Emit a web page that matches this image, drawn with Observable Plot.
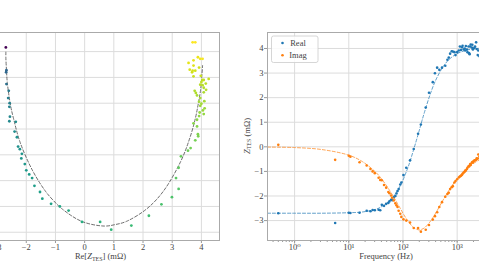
<!DOCTYPE html>
<html>
<head>
<meta charset="utf-8">
<script src="https://cdn.jsdelivr.net/npm/d3@7"></script>
<script src="https://cdn.jsdelivr.net/npm/@observablehq/plot@0.6"></script>
<style>
  html, body { margin: 0; padding: 0; background: #fff; }
  #wrap { position: relative; width: 479px; height: 270px; overflow: hidden; background: #fff; }
  #wrap svg { position: absolute; top: 0; }
  #wrap svg, #wrap svg text, #wrap svg tspan { font-family: "Liberation Serif", "DejaVu Serif", serif !important; }
</style>
</head>
<body>
<div id="wrap"></div>
<script>
// ---- measured data (frequency in Hz, impedance in mOhm) ----
const freq = [0.5, 5.6, 10.0, 10.7, 15.8, 21.4, 25.1, 27.5, 30.2, 35.5, 38.0, 40.7, 44.7, 49.0, 53.7, 56.2, 60.3, 63.1, 67.6, 72.4, 75.9, 79.4, 83.2, 89.1, 93.3, 102, 115, 135, 158, 190, 214, 263, 302, 355, 389, 427, 468, 525, 603, 661, 700, 741, 794, 832, 891, 933, 1000, 1072, 1122, 1175, 1230, 1259, 1318, 1380, 1413, 1445, 1514, 1549, 1622, 1660, 1698, 1738, 1778, 1862, 1905, 1950, 1995, 2089, 2138, 2239, 2291, 2399, 2455, 2570, 2692, 2818, 2951, 3162, 3388, 3631, 3890, 4169, 4467, 4786, 5012];
const realZ = [-2.70, -3.10, -2.68, -2.69, -2.68, -2.60, -2.62, -2.57, -2.58, -2.56, -2.58, -2.36, -2.40, -2.32, -2.28, -2.22, -2.15, -2.17, -2.05, -2.00, -1.90, -1.80, -1.72, -1.53, -1.45, -1.15, -0.85, -0.55, -0.09, 0.53, 0.91, 1.60, 2.20, 2.63, 2.99, 3.22, 3.13, 3.22, 3.30, 3.54, 3.63, 3.79, 3.89, 3.88, 3.85, 3.73, 3.85, 3.92, 4.08, 3.94, 4.05, 4.11, 3.96, 4.00, 3.92, 4.10, 3.96, 3.85, 4.08, 3.81, 3.77, 4.08, 4.16, 4.04, 4.15, 3.96, 4.00, 4.03, 4.08, 4.25, 3.98, 3.73, 3.92, 3.68, 3.79, 3.70, 3.60, 3.73, 3.56, 3.73, 3.88, 3.96, 4.04, 3.70, 3.79];
const imagZ = [0.08, -0.53, -0.36, -0.40, -0.63, -0.76, -0.90, -1.00, -1.07, -1.26, -1.35, -1.36, -1.55, -1.66, -1.84, -1.89, -1.98, -2.07, -2.18, -2.30, -2.38, -2.45, -2.60, -2.72, -2.85, -2.95, -3.00, -3.08, -3.30, -3.30, -3.45, -3.37, -3.18, -2.96, -2.82, -2.66, -2.45, -2.25, -2.03, -1.92, -1.87, -1.72, -1.64, -1.60, -1.45, -1.39, -1.32, -1.25, -1.21, -1.18, -1.14, -1.10, -1.05, -1.01, -0.97, -0.96, -0.90, -0.85, -0.79, -0.80, -0.76, -0.70, -0.74, -0.65, -0.62, -0.64, -0.59, -0.55, -0.55, -0.53, -0.47, -0.48, -0.31, -0.40, -0.37, -0.37, -0.35, -0.27, -0.22, -0.17, -0.11, -0.14, -0.14, 0.18, 0.18];

// ---- fitted model curve ----
const fitFreq = [0.316, 1, 3.16, 10, 17.8, 31.6, 39.8, 56.2, 79.4, 100, 112, 126, 158, 200, 224, 251, 316, 398, 562, 750, 1000, 1334, 1778, 3162, 5012];
const fitReal = [-2.70, -2.70, -2.70, -2.68, -2.65, -2.54, -2.44, -2.21, -1.78, -1.35, -1.08, -0.79, -0.10, 0.67, 1.06, 1.43, 2.12, 2.69, 3.29, 3.60, 3.79, 3.90, 3.97, 4.02, 4.04];
const fitImag = [-0.01, -0.03, -0.11, -0.34, -0.60, -1.04, -1.29, -1.76, -2.31, -2.70, -2.88, -3.04, -3.29, -3.38, -3.35, -3.29, -3.05, -2.71, -2.13, -1.68, -1.30, -0.99, -0.75, -0.43, -0.27];

// ---- ticks ----
const leftXTicks = [-3, -2, -1, 0, 1, 2, 3, 4];
const leftYTicks = [0, -0.5, -1, -1.5, -2, -2.5, -3, -3.5];
const rightXTicks = [1, 10, 100, 1000];
const rightXTickLabels = ["10⁰", "10¹", "10²", "10³"];
const rightYTicks = [-3, -2, -1, 0, 1, 2, 3, 4];
const seriesNames = ["Real", "Imag"];
const seriesColors = ["#1f77b4", "#ff7f0e"];

const data = freq.map((f, i) => ({f, re: realZ[i], im: imagZ[i]}));
const fit = fitFreq.map((f, i) => ({f, re: fitReal[i], im: fitImag[i]}));

const FONT = "Liberation Serif, DejaVu Serif, serif";
const FS = 8.5;
const TXT = "#444";
const minus = v => (v < 0 ? "\u2212" + String(Math.abs(v)) : String(v));
const minus1 = v => (v < 0 ? "\u2212" + Math.abs(v).toFixed(1) : v.toFixed(1));

const wrap = document.getElementById("wrap");
const ML = 40, MR = 10, MT = 32, MB = 30, H = 270;

// ---------------- left: Nyquist plot ----------------
const leftFrameW = 237;
const left = Plot.plot({
  width: ML + leftFrameW + MR, height: H,
  marginLeft: ML, marginRight: MR, marginTop: MT, marginBottom: MB,
  style: {fontFamily: FONT, fontSize: FS + "px", color: TXT, background: "transparent"},
  x: {domain: [-3.5, 4.62]},
  y: {domain: [-3.66, 0.37]},
  color: {type: "log", scheme: "viridis", domain: [0.5, 5012]},
  marks: [
    Plot.gridX(leftXTicks, {stroke: "#dcdcdc", strokeOpacity: 1}),
    Plot.gridY(leftYTicks, {stroke: "#dcdcdc", strokeOpacity: 1}),
    Plot.axisX({ticks: leftXTicks, tickSize: 3, tickPadding: 0, tickFormat: minus, label: null, stroke: "#999", fill: TXT}),
    Plot.axisY({ticks: leftYTicks, tickSize: 3, tickPadding: 1, tickFormat: minus1, label: null, stroke: "#999", fill: TXT}),
    Plot.line(fit, {x: "re", y: "im", stroke: "#555", strokeOpacity: 0.85, strokeWidth: 1, strokeDasharray: "3,2", curve: "catmull-rom", clip: true}),
    Plot.dot(data, {x: "re", y: "im", fill: "f", r: 1.4}),
    Plot.frame({stroke: "#aaa"})
  ]
});
left.style.left = (-18 - ML) + "px";
wrap.appendChild(left);

// ---------------- right: Bode plot ----------------
const rightFrameW = 238;
const right = Plot.plot({
  width: ML + rightFrameW + MR, height: H,
  marginLeft: ML, marginRight: MR, marginTop: MT, marginBottom: MB,
  style: {fontFamily: FONT, fontSize: FS + "px", color: TXT, background: "transparent"},
  x: {type: "log", domain: [0.316, 7800]},
  y: {domain: [-3.81, 4.65]},
  marks: [
    Plot.gridX(rightXTicks, {stroke: "#dcdcdc", strokeOpacity: 1}),
    Plot.gridY(rightYTicks, {stroke: "#dcdcdc", strokeOpacity: 1}),
    Plot.axisX({ticks: 40, tickSize: 2, tickFormat: () => "", label: null, stroke: "#999"}),
    Plot.axisX({ticks: rightXTicks, tickSize: 3.5, tickPadding: -0.5, tickFormat: d => rightXTickLabels[rightXTicks.indexOf(d)], label: null, stroke: "#999", fill: TXT}),
    Plot.axisY({ticks: rightYTicks, tickSize: 3, tickPadding: 1, tickFormat: minus, label: null, stroke: "#999", fill: TXT}),
    Plot.dot(data, {x: "f", y: "re", fill: seriesColors[0], r: 1.3}),
    Plot.line(fit, {x: "f", y: "re", stroke: seriesColors[0], strokeOpacity: 0.7, strokeWidth: 1, strokeDasharray: "3,2", curve: "catmull-rom", clip: true}),
    Plot.dot(data, {x: "f", y: "im", fill: seriesColors[1], r: 1.3}),
    Plot.line(fit, {x: "f", y: "im", stroke: seriesColors[1], strokeOpacity: 0.7, strokeWidth: 1, strokeDasharray: "3,2", curve: "catmull-rom", clip: true}),
    Plot.frame({stroke: "#aaa"})
  ]
});
right.style.left = (267 - ML) + "px";
wrap.appendChild(right);

// ---------------- axis titles (with sub-scripts) ----------------
function zLabel(sel, pre, post) {
  const t = sel.append("text").attr("font-family", FONT).attr("font-size", FS).attr("fill", TXT).attr("text-anchor", "middle");
  t.append("tspan").text(pre);
  t.append("tspan").attr("font-style", "italic").text("Z");
  t.append("tspan").attr("font-size", 6).attr("dy", 1.5).text("TES");
  t.append("tspan").attr("dy", -1.5).text(post);
  return t;
}
const ls = d3.select(left);
zLabel(ls, "Re[", "] (m\u03A9)").attr("x", ML + leftFrameW / 2).attr("y", 259);
zLabel(ls, "Im[", "] (m\u03A9)").attr("transform", `translate(10,${(MT + H - MB) / 2}) rotate(-90)`);

const rs = d3.select(right);
rs.append("text").attr("font-family", FONT).attr("font-size", FS).attr("fill", TXT)
  .attr("text-anchor", "middle").attr("x", ML + rightFrameW / 2).attr("y", 259).text("Frequency (Hz)");
zLabel(rs, "", " (m\u03A9)").attr("transform", `translate(22.5,${(MT + H - MB) / 2}) rotate(-90)`);

// ---------------- legend ----------------
const lg = rs.append("g");
lg.append("rect").attr("x", 44.5).attr("y", 36).attr("width", 46.5).attr("height", 26.5)
  .attr("rx", 2).attr("fill", "#fff").attr("fill-opacity", 0.85).attr("stroke", "#ccc").attr("stroke-width", 0.8);
seriesNames.forEach((name, i) => {
  const y = 43 + i * 12.3;
  lg.append("circle").attr("cx", 55.5).attr("cy", y).attr("r", 1.3).attr("fill", seriesColors[i]);
  lg.append("text").attr("x", 71).attr("y", y + 3).attr("font-family", FONT).attr("font-size", FS).attr("fill", TXT).text(name);
});
</script>
</body>
</html>
